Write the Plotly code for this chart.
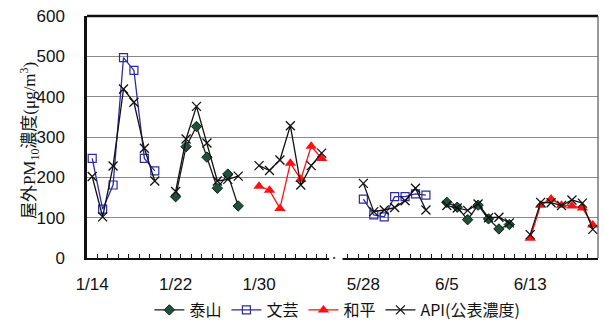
import plotly.graph_objects as go

# Sampling days: winter period, three empty slots for the break, summer period
winter_dates = ["1/14", "1/15", "1/16", "1/17", "1/18", "1/19", "1/20", "1/21",
                "1/22", "1/23", "1/24", "1/25", "1/26", "1/27", "1/28", "1/29",
                "1/30", "1/31", "2/1", "2/2", "2/3", "2/4", "2/5"]
break_slots = ["", "", ""]
summer_dates = ["5/28", "5/29", "5/30", "5/31", "6/1", "6/2", "6/3", "6/4",
                "6/5", "6/6", "6/7", "6/8", "6/9", "6/10", "6/11", "6/12",
                "6/13", "6/14", "6/15", "6/16", "6/17", "6/18", "6/19"]
label_dates = ["1/14", "1/22", "1/30", "5/28", "6/5", "6/13"]

# Outdoor PM10 (ug/m3) per site
taishan_winter = [None] * 8 + [152, 276, 326, 250, 173, 208, 129] + [None] * 8
taishan_summer = [None] * 8 + [138, 126, 95, 131, 97, 72, 83] + [None] * 8

wenyi_winter = [247, 121, 181, 497, 465, 247, 216] + [None] * 16
wenyi_summer = [146, 107, 102, 152, 152, 159, 156] + [None] * 16

heping_winter = [None] * 16 + [178, 168, 123, 235, 195, 277, 247]
heping_summer = [None] * 16 + [49, 131, 146, 131, 129, 124, 82]

api_winter = [202, 102, 228, 419, 386, 272, 191, None,
              165, 295, 376, 285, 191, 195, 203, None,
              229, 217, 243, 328, 181, 229, 260]
api_summer = [185, 115, 119, 125, 142, 173, 119, None,
              130, 124, 118, 134, 100, 101, 87, None,
              58, 138, 137, 130, 144, 136, 71]

y_ticks = [0, 100, 200, 300, 400, 500, 600]

dates = winter_dates + break_slots + summer_dates
x = list(range(len(dates)))
gap = [None] * len(break_slots)


def join(winter, summer):
    return winter + gap + summer


series = [
    ("泰山", join(taishan_winter, taishan_summer),
     dict(color="#1a1a1a", width=1.3),
     dict(symbol="diamond", size=8, color="#1f5038", line=dict(color="#0c2418", width=1))),
    ("文芸", join(wenyi_winter, wenyi_summer),
     dict(color="#2b2ba3", width=1.3),
     dict(symbol="square-open", size=8, color="#2b2ba3", line=dict(color="#2b2ba3", width=1.2))),
    ("和平", join(heping_winter, heping_summer),
     dict(color="#ff1010", width=1.3),
     dict(symbol="triangle-up", size=10, color="#ff1010", line=dict(width=0))),
    ("API(公表濃度)", join(api_winter, api_summer),
     dict(color="#111111", width=1.3),
     dict(symbol="x-thin", size=9, color="#111111", line=dict(color="#111111", width=1.3))),
]

fig = go.Figure()
for name, values, line, marker in series:
    fig.add_trace(go.Scatter(x=x, y=values, name=name, mode="lines+markers",
                             line=line, marker=marker, connectgaps=False))

tick_idx = [dates.index(d) for d in label_dates]
n = len(dates)
break_pos = len(winter_dates) + 0.5  # boundary hidden by the axis break
minor_vals = [k + 0.5 for k in range(n - 1) if k + 0.5 != break_pos]

label_font = dict(family="Liberation Sans, Arial, sans-serif", size=17, color="#111111")

fig.update_layout(
    width=604, height=327,
    margin=dict(l=87, r=6, t=16, b=69, autoexpand=False),
    paper_bgcolor="white", plot_bgcolor="white",
    showlegend=True,
    legend=dict(orientation="h", x=0.49, xanchor="center",
                yref="container", y=0.0, yanchor="bottom",
                font=dict(family="Noto Sans CJK JP, Liberation Sans, sans-serif",
                          size=16, color="#111111"),
                itemwidth=30, tracegroupgap=0, bgcolor="rgba(0,0,0,0)"),
    xaxis=dict(range=[-0.5, n - 0.5], showgrid=False, zeroline=False,
               tickmode="array", tickvals=tick_idx, ticktext=label_dates,
               ticks="", tickfont=label_font, ticklabelstandoff=10,
               showline=True, linecolor="#111111", linewidth=1.5,
               minor=dict(tickmode="array", tickvals=minor_vals, ticks="inside",
                          ticklen=4, tickwidth=1, tickcolor="#111111", showgrid=False)),
    yaxis=dict(range=[0, 600], tickmode="array", tickvals=y_ticks,
               showgrid=True, gridcolor="#8a8a8a", gridwidth=1, zeroline=False,
               ticks="", tickfont=label_font, ticklabelstandoff=16,
               showline=True, linecolor="#111111", linewidth=2.5),
)

# Frame: heavy top edge, thin right edge
fig.add_shape(type="line", xref="paper", yref="paper", x0=0, x1=1, y0=1, y1=1,
              line=dict(color="#111111", width=2.5), layer="above")
fig.add_shape(type="line", xref="paper", yref="paper", x0=1, x1=1, y0=0, y1=1,
              line=dict(color="#555555", width=1.2), layer="above")

# Break in the date axis between the two campaigns
fig.add_shape(type="rect", xref="x", yref="paper", x0=22.72, x1=24.0,
              y0=-0.03, y1=0.03, fillcolor="white", line=dict(width=0), layer="above")
fig.add_shape(type="rect", xref="x", yref="paper", x0=23.1, x1=23.3,
              y0=-0.003, y1=0.003, fillcolor="#111111", line=dict(width=0), layer="above")

# Y-axis title
fig.add_annotation(xref="paper", yref="paper", x=-0.1135, y=0.483,
                   xanchor="center", yanchor="middle",
                   text="屋外PM<sub>10</sub>濃度(μg/m<sup>3</sup>)",
                   textangle=-90, showarrow=False,
                   font=dict(family="Liberation Serif, Noto Sans CJK JP, serif",
                             size=17, color="#111111"))

fig.write_html("out.html")
